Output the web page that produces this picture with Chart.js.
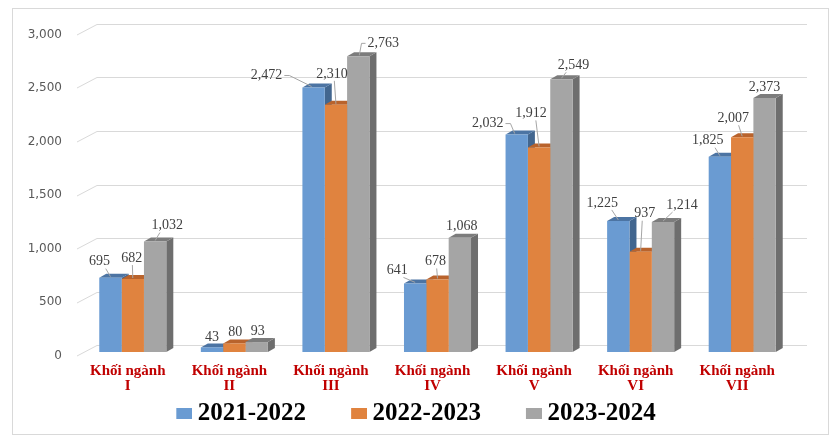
<!DOCTYPE html>
<html><head><meta charset="utf-8">
<script src="https://cdn.jsdelivr.net/npm/chart.js@4.4.1/dist/chart.umd.min.js"></script>
<style>html,body{margin:0;padding:0;background:#fff;overflow:hidden}</style>
</head><body>
<canvas id="c" width="840" height="447"></canvas>
<script>
// ---- data ----
const categories = [["Khối ngành","I"],["Khối ngành","II"],["Khối ngành","III"],["Khối ngành","IV"],["Khối ngành","V"],["Khối ngành","VI"],["Khối ngành","VII"]];
const seriesNames = ["2021-2022","2022-2023","2023-2024"];
const values2021 = [695, 43, 2472, 641, 2032, 1225, 1825];
const values2022 = [682, 80, 2310, 678, 1912, 937, 2007];
const values2023 = [1032, 93, 2763, 1068, 2549, 1214, 2373];
const yTickValues = [0, 500, 1000, 1500, 2000, 2500, 3000];

// ---- styles ----
const frontColors = ["#6A9BD2", "#E0833F", "#A5A5A5"];
const sideColors  = ["#42668F", "#A85A26", "#6E6E6E"];
const topColors   = ["#4C74A3", "#B9632C", "#7C7C7C"];
// label placement relative to bar top centre (style only)
const labelShift = [
  [[-11,-16],[0,-10],[-47,-12],[-18,-13],[-29,-11],[-16,-18],[-12,-16]],
  [[-1,-21],[1,-11],[-4,-31],[-2,-18],[-8,-34],[4,-38],[-9,-19]],
  [[12,-16],[1,-11],[25,-13],[2,-11],[12,-14],[19,-17],[0,-11]]
];
const DX = 7, DY = 4;
const LEG_SLOT = 48;

// legend swatches: transparent lead-in + coloured box at right end
const swatches = frontColors.map(col => {
  const cv = document.createElement('canvas');
  cv.width = LEG_SLOT + 14; cv.height = 11;
  const g = cv.getContext('2d');
  g.fillStyle = col;
  g.fillRect(cv.width - 16, 0, 16, 11);
  return cv;
});

const threeD = {
  id: 'threeD',
  beforeDraw(chart) {
    const ctx = chart.ctx;
    ctx.save();
    ctx.fillStyle = '#fff';
    ctx.fillRect(0, 0, chart.width, chart.height);
    ctx.strokeStyle = '#D9D9D9';
    ctx.lineWidth = 1;
    ctx.strokeRect(12.5, 8.5, 816, 426);
    ctx.restore();
  },
  beforeDatasetsDraw(chart) {
    const ctx = chart.ctx, a = chart.chartArea, ys = chart.scales.y;
    ctx.save();
    ctx.strokeStyle = '#D9D9D9';
    ctx.lineWidth = 1;
    ys.ticks.forEach(t => {
      const py = Math.round(ys.getPixelForValue(t.value)) + 0.5;
      ctx.beginPath();
      ctx.moveTo(a.left - 5, py + 3.5);
      ctx.lineTo(a.left + 15, py - 7);
      ctx.lineTo(a.right + 14, py - 7);
      ctx.stroke();
    });
    chart.data.datasets.forEach((ds, i) => {
      const meta = chart.getDatasetMeta(i);
      meta.data.forEach(bar => {
        const p = bar.getProps(['x', 'y', 'base', 'width'], true);
        const l = p.x - p.width / 2, r = p.x + p.width / 2;
        ctx.fillStyle = sideColors[i];
        ctx.beginPath();
        ctx.moveTo(r, p.y); ctx.lineTo(r + DX, p.y - DY);
        ctx.lineTo(r + DX, p.base - DY); ctx.lineTo(r, p.base);
        ctx.closePath(); ctx.fill();
        ctx.fillStyle = topColors[i];
        ctx.beginPath();
        ctx.moveTo(l, p.y); ctx.lineTo(l + DX, p.y - DY);
        ctx.lineTo(r + DX, p.y - DY); ctx.lineTo(r, p.y);
        ctx.closePath(); ctx.fill();
      });
    });
    ctx.restore();
  },
  afterDatasetsDraw(chart) {
    const ctx = chart.ctx;
    ctx.save();
    ctx.font = '14px "Liberation Serif", "Times New Roman", serif';
    ctx.textAlign = 'center';
    ctx.textBaseline = 'middle';
    chart.data.datasets.forEach((ds, i) => {
      const meta = chart.getDatasetMeta(i);
      meta.data.forEach((bar, j) => {
        const p = bar.getProps(['x', 'y'], true);
        const [sx, sy] = labelShift[i][j];
        const lx = p.x + sx, ly = p.y + sy;
        const txt = ds.data[j].toLocaleString('en-US');
        const w = ctx.measureText(txt).width;
        const dist = Math.hypot(sx, sy);
        if (dist > 14) {
          ctx.strokeStyle = '#A6A6A6';
          ctx.lineWidth = 1;
          ctx.beginPath();
          if (sx < -20) {
            ctx.moveTo(lx + w / 2 + 2, ly);
            ctx.lineTo(lx + w / 2 + 7, ly);
            ctx.lineTo(p.x - 2, p.y - 1);
          } else if (sx > 20) {
            ctx.moveTo(lx - w / 2 - 2, ly);
            ctx.lineTo(lx - w / 2 - 6, ly);
            ctx.lineTo(p.x + 1, p.y - 1);
          } else {
            const off = Math.max(-w / 2, Math.min(w / 2, -sx)) * 0.6;
            ctx.moveTo(lx + off, ly + 7);
            ctx.lineTo(p.x, p.y - 1);
          }
          ctx.stroke();
        }
        ctx.fillStyle = '#404040';
        ctx.fillText(txt, lx, ly);
      });
    });
    ctx.restore();
  }
};

const seriesValues = [values2021, values2022, values2023];
new Chart(document.getElementById('c'), {
  type: 'bar',
  data: {
    labels: categories,
    datasets: seriesNames.map((n, i) => ({
      label: n,
      data: seriesValues[i],
      backgroundColor: frontColors[i],
      borderWidth: 0,
      categoryPercentage: 0.66,
      barPercentage: 1.0
    }))
  },
  options: {
    responsive: false,
    animation: false,
    devicePixelRatio: 1,
    layout: { padding: { left: 0, right: 47, top: 31, bottom: 11 } },
    plugins: {
      tooltip: { enabled: false },
      legend: {
        position: 'bottom',
        labels: {
          usePointStyle: true, pointStyleWidth: LEG_SLOT, boxHeight: 11,
          padding: 6, color: '#000',
          font: { family: '"Liberation Serif", "Times New Roman", serif', size: 25, weight: 'bold' },
          generateLabels(chart) {
            const items = Chart.defaults.plugins.legend.labels.generateLabels(chart);
            items.forEach((it, k) => { it.pointStyle = swatches[it.datasetIndex ?? k]; });
            return items;
          }
        }
      }
    },
    scales: {
      x: {
        grid: { display: false, drawTicks: false },
        border: { display: false },
        ticks: {
          color: '#C00000', padding: 12, labelOffset: -5, maxRotation: 0, autoSkip: false,
          font: { family: '"Liberation Serif", "Times New Roman", serif', size: 15, weight: 'bold', lineHeight: 1.0 }
        },
        afterFit(s) { s.height = 43; s.paddingLeft = 0; s.paddingRight = 0; }
      },
      y: {
        min: 0, max: 3000,
        afterBuildTicks(s) { s.ticks = yTickValues.map(v => ({ value: v })); },
        grid: { display: false, drawTicks: false },
        border: { display: false },
        ticks: {
          color: '#595959', padding: 20, labelOffset: 3.5,
          font: { family: '"DejaVu Sans", sans-serif', size: 12 }
        },
        afterFit(s) { s.width = 82; s.paddingTop = 0; s.paddingBottom = 0; }
      }
    }
  },
  plugins: [threeD]
});
</script>
</body></html>
